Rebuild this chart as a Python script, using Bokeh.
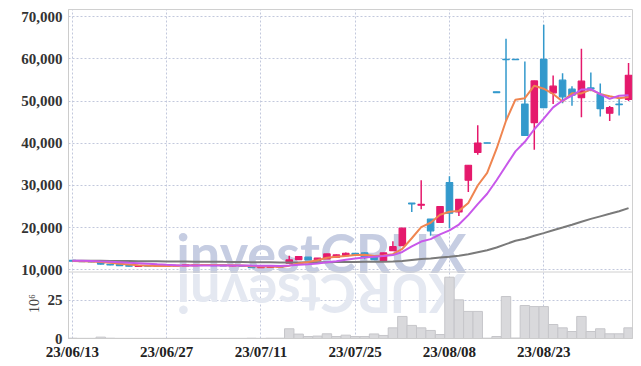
from bokeh.plotting import figure
from bokeh.models import (ColumnDataSource, Range1d, FixedTicker, NumeralTickFormatter,
                          LinearAxis, Span)
from bokeh.embed import file_html
from bokeh.resources import INLINE
from bokeh.core.properties import value

dates = ["23/06/13", "23/06/14", "23/06/15", "23/06/16", "23/06/19", "23/06/20", "23/06/21", "23/06/22", "23/06/23", "23/06/26",
         "23/06/27", "23/06/28", "23/06/29", "23/06/30", "23/07/03", "23/07/04", "23/07/05", "23/07/06", "23/07/07", "23/07/10",
         "23/07/11", "23/07/12", "23/07/13", "23/07/14", "23/07/17", "23/07/18", "23/07/19", "23/07/20", "23/07/21", "23/07/24",
         "23/07/25", "23/07/26", "23/07/27", "23/07/28", "23/07/31", "23/08/01", "23/08/02", "23/08/03", "23/08/04", "23/08/07",
         "23/08/08", "23/08/09", "23/08/10", "23/08/11", "23/08/14", "23/08/16", "23/08/17", "23/08/18", "23/08/21", "23/08/22",
         "23/08/23", "23/08/24", "23/08/25", "23/08/28", "23/08/29", "23/08/30", "23/08/31", "23/09/01", "23/09/04", "23/09/05"]

opens = [12250, 12050, 11950, 11800, 11300, 11250, 11000, 10800, 10950, 10850,
         10850, 10950, 10950, 11000, 11050, 11200, 11150, 10900, 11000, 10850,
         10500, 10550, 10850, 11580, 12420, 12990, 12200, 12590, 12990, 13370,
         13900, 14000, 12990, 12190, 14540, 15720, 25800, 25300, 22000, 21220,
         30700, 23720, 31250, 37830, 40100, 52200, 59900, 59900, 49300, 44890,
         59880, 51950, 54940, 52820, 50780, 53100, 51580, 47110, 49300, 50400]
highs = [12300, 12100, 12000, 11850, 11350, 11300, 11050, 11000, 11000, 11000,
         11050, 11100, 11250, 11200, 11300, 11250, 11200, 11050, 11050, 10900,
         10700, 10850, 10900, 13360, 13150, 13050, 12800, 13800, 13600, 14100,
         14000, 14100, 13000, 14050, 16750, 19900, 25800, 31200, 22000, 25000,
         32200, 26800, 34800, 44280, 40100, 52200, 64750, 59950, 59400, 54800,
         68100, 56040, 56590, 53530, 62400, 56750, 54170, 48820, 50780, 59010]
lows = [12000, 11900, 11800, 11250, 11100, 10950, 10800, 10750, 10800, 10800,
        10800, 10900, 10900, 10950, 11000, 10950, 10900, 10850, 10800, 10450,
        10450, 10500, 10600, 11550, 12400, 12300, 12150, 12550, 12950, 13300,
        13500, 12500, 12400, 12150, 14500, 15700, 23700, 24350, 18070, 21200,
        19880, 22780, 28420, 37290, 40000, 52000, 45400, 59750, 41830, 38470,
        48400, 49290, 49460, 48890, 46160, 52350, 46320, 45290, 46550, 50000]
closes = [12050, 11950, 11850, 11350, 11150, 11000, 10850, 10950, 10850, 10950,
          11000, 11050, 11200, 11150, 11250, 11000, 10950, 11000, 10850, 10500,
          10650, 10800, 10650, 12350, 13130, 12350, 12750, 13760, 13530, 13920,
          13600, 12990, 12420, 14000, 15480, 19880, 25650, 25500, 19250, 24990,
          23410, 26700, 34780, 40050, 40000, 52000, 59800, 59800, 41830, 54780,
          48420, 53530, 51010, 51410, 54710, 52900, 48190, 48420, 49150, 56120]
volumes = [0.2, 0.1, 0.1, 0.9, 0.2, 0.1, 0.1, 0.1, 0.1, 0.1,
           0.1, 0.1, 0.1, 0.1, 0.1, 0.1, 0.1, 0.1, 0.1, 0.2,
           0.1, 0.2, 0.2, 6.4, 2.9, 1.3, 1.6, 3.1, 1.3, 2.2,
           1.3, 1.3, 3.0, 2.0, 7.0, 14.5, 8.6, 7.0, 5.3, 2.6,
           40.3, 25.4, 17.8, 17.8, 0.2, 1.3, 27.6, 0.3, 21.7, 21.0,
           21.0, 9.2, 7.0, 4.6, 14.5, 4.6, 6.4, 3.1, 3.1, 7.0]
ma5 = [12100, 12050, 11980, 11850, 11670, 11460, 11240, 11060, 10960, 10920,
       10920, 10960, 11010, 11070, 11130, 11130, 11110, 11070, 11010, 10860,
       10790, 10760, 10690, 10990, 11516, 11856, 12246, 12868, 13104, 13262,
       13512, 13560, 13292, 13386, 13698, 14954, 17486, 20102, 21152, 23054,
       23760, 23970, 25826, 29986, 32988, 38706, 45326, 50330, 50686, 53642,
       52926, 51672, 49914, 51830, 51816, 52712, 51644, 51126, 50674, 50956]
ma10 = [12150, 12120, 12080, 12000, 11900, 11790, 11660, 11540, 11420, 11300,
        11195, 11105, 11040, 11020, 11030, 11030, 11040, 11045, 11045, 11000,
        10965, 10940, 10885, 11005, 11193, 11328, 11508, 11784, 12052, 12394,
        12689, 12908, 13085, 13250, 13485, 14238, 15528, 16702, 17274, 18381,
        19362, 20733, 22969, 25574, 28026, 31238, 34653, 38083, 40341, 43320,
        45821, 48504, 50127, 51263, 52734, 52824, 51663, 50525, 51257, 51391]
ma60 = [12148, 12145, 12140, 12127, 12110, 12091, 12069, 12049, 12027, 12007,
        11988, 11970, 11954, 11937, 11922, 11903, 11883, 11864, 11842, 11815,
        11790, 11767, 11742, 11745, 11761, 11765, 11775, 11802, 11825, 11854,
        11878, 11892, 11897, 11928, 11983, 12112, 12337, 12560, 12678, 12892,
        13080, 13322, 13699, 14164, 14628, 15292, 16086, 16880, 17375, 18086,
        18690, 19380, 20028, 20682, 21391, 22070, 22671, 23275, 23892, 24625]
tick_idx = [0, 10, 20, 30, 40, 50]
price_ticks = [10000, 20000, 30000, 40000, 50000, 60000, 70000]
vol_ticks = [0, 25]
vol_unit = "10⁶"
watermark = "investCRUX"
wm_letters = list(watermark)

# ---- layout geometry (pixels) ----
FRAME_TOP, PRICE_BOTTOM, VOL_TOP, FRAME_BOTTOM = 9, 271, 272, 338
PRICE_LO, PRICE_HI, VOL_HI = 9600, 71700, 43.4
ppx = (PRICE_HI - PRICE_LO) / (PRICE_BOTTOM - FRAME_TOP)
y_lo = PRICE_LO - (FRAME_BOTTOM - PRICE_BOTTOM) * ppx
vpx = VOL_HI / (FRAME_BOTTOM - VOL_TOP)
v_hi = (FRAME_BOTTOM - FRAME_TOP) * vpx


def vol_to_price(v):
    return y_lo + v / vpx * ppx


def screen_to_price(sy):
    return y_lo + (FRAME_BOTTOM - sy) * ppx


UP = "#e5196c"
DOWN = "#3399cc"
FONT = "Liberation Sans Narrow"
GRIDC = "#c2c8dc"

idx = list(range(len(closes)))
src = ColumnDataSource(dict(
    x=idx, o=opens, h=highs, l=lows, c=closes,
    top=[max(a, b) for a, b in zip(opens, closes)],
    bot=[min(a, b) for a, b in zip(opens, closes)],
    color=[UP if c > o else DOWN for o, c in zip(opens, closes)],
    vol=volumes, ma5=ma5, ma10=ma10, ma60=ma60,
))

H = 365
p = figure(width=633, height=H, x_range=Range1d(-0.42, 59.42), y_range=Range1d(y_lo, PRICE_HI),
           output_backend="svg", toolbar_location=None,
           min_border_left=68, min_border_right=1, min_border_top=FRAME_TOP,
           min_border_bottom=H - FRAME_BOTTOM)
p.extra_y_ranges = {"vol": Range1d(0, v_hi)}
p.outline_line_color = "#d0d0d0"

vt_price = [round(vol_to_price(v), 3) for v in vol_ticks]
all_ticks = vt_price + price_ticks

p.ygrid.ticker = FixedTicker(ticks=all_ticks)
p.ygrid.grid_line_color = GRIDC
p.ygrid.grid_line_dash = "2 2"
p.xgrid.ticker = FixedTicker(ticks=tick_idx)
p.xgrid.grid_line_color = GRIDC
p.xgrid.grid_line_dash = "2 2"

ya = p.yaxis[0]
ya.ticker = FixedTicker(ticks=all_ticks)
ya.formatter = NumeralTickFormatter(format="0,0")
ya.major_label_overrides = {t: str(v) for t, v in zip(vt_price, vol_ticks)}
ya.axis_line_color = "#cccccc"
ya.major_tick_line_color = None
ya.minor_tick_line_color = None
ya.major_tick_out = 0
ya.major_tick_in = 0
ya.major_label_text_font = FONT
ya.major_label_text_font_size = "15px"
ya.major_label_text_font_style = "bold"
ya.major_label_text_color = "#333333"
ya.major_label_standoff = 6

# unit label of the volume panel, drawn as a vertical tick label of an outer axis
UNIT_AT = 23
va = LinearAxis(y_range_name="vol", bounds=(0, VOL_HI), ticker=FixedTicker(ticks=[UNIT_AT]),
                major_label_overrides={UNIT_AT: vol_unit}, major_label_orientation="vertical",
                axis_line_color=None, major_tick_line_color=None, minor_tick_line_color=None,
                major_tick_out=0, major_tick_in=0, major_label_standoff=-24,
                major_label_text_font=FONT, major_label_text_font_size="14px",
                major_label_text_font_style="normal", major_label_text_color="#444444")
p.add_layout(va, "left")

xa = p.xaxis[0]
xa.ticker = FixedTicker(ticks=tick_idx)
xa.major_label_overrides = {i: dates[i] for i in tick_idx}
xa.axis_line_color = "#cccccc"
xa.major_tick_line_color = None
xa.minor_tick_line_color = None
xa.major_tick_out = 0
xa.major_tick_in = 0
xa.major_label_text_font = FONT
xa.major_label_text_font_size = "15px"
xa.major_label_text_font_style = "bold"
xa.major_label_text_color = "#222222"
xa.major_label_standoff = 5

# watermark (centre-anchored) and its mirrored reflection below the panel divide
p.text(x=[11.0], y=[screen_to_price(252)], text=[watermark], text_font=value("Lato"),
       text_font_style="bold", text_font_size="54px", text_color="#c6cde2",
       text_baseline="middle", text_align="left")
wm_x = [11.76, 14.1, 17.2, 20.2, 23.0, 25.3, 28.2, 32.0, 35.8, 39.7]
p.text(x=wm_x, y=[screen_to_price(294)] * len(wm_letters), text=wm_letters,
       text_font=value("Lato"), text_font_style="bold", text_font_size="54px",
       text_color="#e4e8f1", text_baseline="middle", text_align="center",
       angle=3.14159265)

# volume bars
p.vbar(x="x", top="vol", bottom=0, width=1.0, source=src, fill_color="#d9d9dc",
       line_color="#c6c6ca", line_width=1, y_range_name="vol")

# candles
p.segment(x0="x", y0="h", x1="x", y1="l", source=src, line_color="color", line_width=1.5)
p.vbar(x="x", top="top", bottom="bot", width=0.68, source=src, fill_color="color",
       line_color="color", line_width=1.2)
p.line(x="x", y="ma60", source=src, line_color="#7a7a7a", line_width=2)
p.line(x="x", y="ma5", source=src, line_color="#ef8550", line_width=2)
p.line(x="x", y="ma10", source=src, line_color="#c858ea", line_width=2)

# panel separator
p.add_layout(Span(location=screen_to_price(271.5), dimension="width", line_color="#d0d0d0",
                  line_width=1))

open("out.html", "w").write(file_html(p, INLINE))
